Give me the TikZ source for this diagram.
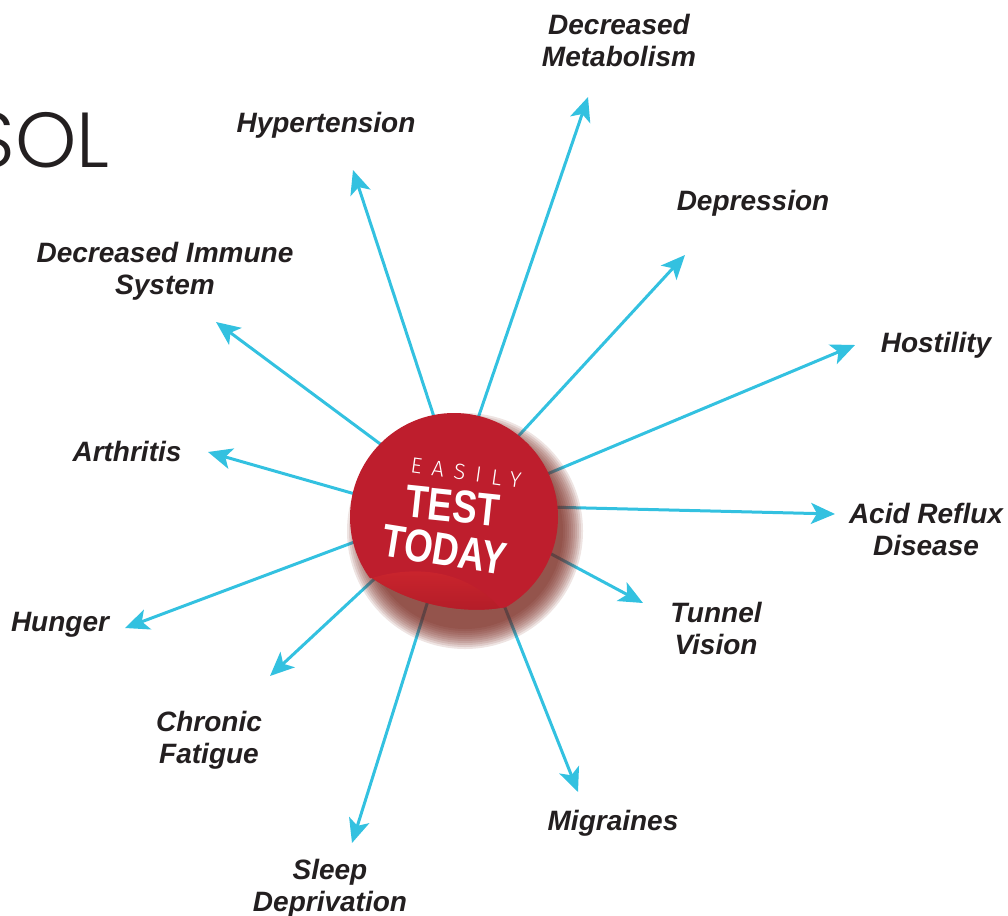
\documentclass[tikz,border=0pt]{standalone}
\usepackage{fontspec}
\usetikzlibrary{arrows.meta}
\setmainfont{Liberation Sans}
\newfontfamily\lblfont{Liberation Sans}
\newfontfamily\boldfont{Liberation Sans}
\IfFontExistsTF{Poppins Light}{\newfontfamily\thinfont{Poppins Light}}{%
  \IfFontExistsTF{Fira Sans Light}{\newfontfamily\thinfont{Fira Sans Light}}{\newfontfamily\thinfont{Liberation Sans}}}
\IfFontExistsTF{Fira Sans Light}{\newfontfamily\spacedfont{Fira Sans Light}[LetterSpace=45]}{\newfontfamily\spacedfont{Liberation Sans}[LetterSpace=45]}
\definecolor{arrowc}{RGB}{51,193,224}
\definecolor{txt}{RGB}{35,31,32}
\definecolor{badgered}{RGB}{190,30,45}
\definecolor{foldlight}{RGB}{206,38,46}
\definecolor{folddark}{RGB}{178,28,40}
\definecolor{shadowc}{RGB}{115,30,20}
\tikzset{
  conn/.style={draw=arrowc, line width=3pt, -{Stealth[length=24pt,width=21pt,inset=6pt]}},
  lbl/.style={anchor=north, inner sep=0pt, align=center, text=txt,
    font=\lblfont\bfseries\itshape\fontsize{28}{32}\selectfont},
  badgetxt/.style={text=white, inner sep=0pt}
}
\begin{document}
\begin{tikzpicture}[x=1pt,y=-1pt]
\useasboundingbox (0,0) rectangle (1008,915);
% title fragment
\node[anchor=base east, inner sep=0pt, text=txt, font=\thinfont\fontsize{78}{80}\selectfont] (title) at (110,167) {SOL};
% start points
\coordinate (s1) at (437,426);
\coordinate (s2) at (475,427);
\coordinate (s3) at (512,443);
\coordinate (s4) at (540,477);
\coordinate (s5) at (545,507);
\coordinate (s6) at (540,548);
\coordinate (s7) at (498,590);
\coordinate (s8) at (432,588);
\coordinate (s9) at (385,569);
\coordinate (s10) at (365,538);
\coordinate (s11) at (362,496);
\coordinate (s12) at (387,449);
% tips
\coordinate (t1) at (353,170);
\coordinate (t2) at (588,97);
\coordinate (t3) at (685,255);
\coordinate (t4) at (855,345);
\coordinate (t5) at (835,514);
\coordinate (t6) at (643,603);
\coordinate (t7) at (578,792);
\coordinate (t8) at (352,843);
\coordinate (t9) at (270,676);
\coordinate (t10) at (125,628);
\coordinate (t11) at (208,452);
\coordinate (t12) at (216,322);
\foreach \i in {1,...,12} \draw[conn] (s\i) -- (t\i);
% shadow
\foreach \r in {98,100,...,118}
  \fill[shadowc, opacity=0.12] (465,531) circle (\r);
% badge
\begin{scope}
  \clip (330,380) -- (600,380) -- (600,600) -- (500,608) .. controls (460,614) and (410,604) .. (372,578) -- (330,578) -- cycle;
  \fill[badgered] (454,517) circle (104);
\end{scope}
\node[circle, minimum size=208pt, inner sep=0pt] (badge) at (454,517) {};
\shade[top color=foldlight, bottom color=folddark]
  (372,578) .. controls (410,604) and (460,614) .. (500,608)
  .. controls (472,576) and (425,562) .. (372,578) -- cycle;
\node[badgetxt, rotate=-8, font=\spacedfont\fontsize{22}{24}\selectfont] (easily) at (466,473) {EASILY};
\node[badgetxt, rotate=-6, xscale=0.8, font=\boldfont\bfseries\fontsize{46}{46}\selectfont] (test) at (453,506) {TEST};
\node[badgetxt, rotate=-9, xscale=0.8, font=\boldfont\bfseries\fontsize{46}{46}\selectfont] (today) at (445,550) {TODAY};
% labels
\node[lbl] (l1) at (326,112) {Hypertension};
\node[lbl] (l2) at (619,14) {Decreased\\Metabolism};
\node[lbl] (l3) at (753,190) {Depression};
\node[lbl] (l4) at (936,332) {Hostility};
\node[lbl] (l5) at (926,503) {Acid Reflux\\Disease};
\node[lbl] (l6) at (716,602) {Tunnel\\Vision};
\node[lbl] (l7) at (613,810) {Migraines};
\node[lbl] (l8) at (330,859) {Sleep\\Deprivation};
\node[lbl] (l9) at (209,711) {Chronic\\Fatigue};
\node[lbl] (l10) at (60,612) {Hunger};
\node[lbl] (l11) at (127,441) {Arthritis};
\node[lbl] (l12) at (165,242) {Decreased Immune\\System};
\end{tikzpicture}
\end{document}
